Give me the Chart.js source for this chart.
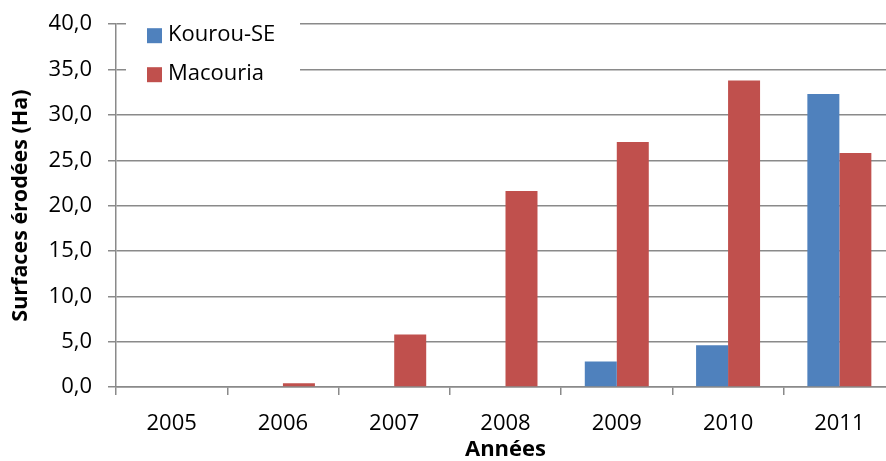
<!DOCTYPE html>
<html lang="fr">
<head>
<meta charset="utf-8">
<title>Surfaces érodées</title>
<script src="https://cdn.jsdelivr.net/npm/chart.js@4.4.0/dist/chart.umd.min.js"></script>
<style>
  html, body { margin: 0; padding: 0; background: #fff; overflow: hidden; }
  #wrap { position: relative; width: 895px; height: 466px; margin-top: -5px; }
</style>
</head>
<body>
<div id="wrap"><canvas id="chart"></canvas></div>
<script>
// Données
const annees = ['2005', '2006', '2007', '2008', '2009', '2010', '2011'];
const kourouSE = [0, 0, 0, 0, 2.8, 4.6, 32.3];
const macouria = [0, 0.4, 5.8, 21.6, 27.0, 33.8, 25.8];
const serieNoms = ['Kourou-SE', 'Macouria'];
const serieCouleurs = ['#4f81bd', '#c0504d'];

const police = "'Open Sans', 'Liberation Sans', sans-serif";
const gris = '#8a8a8a';

// Légende dessinée dans la zone du graphique (en haut à gauche)
const legendeInterne = {
  id: 'legendeInterne',
  afterDatasetsDraw(chart) {
    const ctx = chart.ctx;
    const area = chart.chartArea;
    const x0 = area.left + 10;
    const y0 = area.top - 10;
    ctx.save();
    ctx.fillStyle = '#fff';
    ctx.fillRect(x0, y0, 174, 86);
    ctx.font = '22px ' + police;
    ctx.textBaseline = 'middle';
    chart.data.datasets.forEach((ds, i) => {
      const cy = area.top + 11 + i * 39;
      ctx.fillStyle = ds.backgroundColor;
      ctx.fillRect(area.left + 31, cy - 7, 15, 15);
      ctx.fillStyle = '#000';
      ctx.fillText(ds.label, area.left + 52, cy);
    });
    ctx.restore();
  }
};

new Chart(document.getElementById('chart'), {
  type: 'bar',
  data: {
    labels: annees,
    datasets: [
      { label: serieNoms[0], data: kourouSE, backgroundColor: serieCouleurs[0] },
      { label: serieNoms[1], data: macouria, backgroundColor: serieCouleurs[1] }
    ]
  },
  options: {
    responsive: true,
    maintainAspectRatio: false,
    animation: false,
    layout: { padding: { top: 14, right: 0, left: 0, bottom: 0 } },
    datasets: {
      bar: { barPercentage: 1, categoryPercentage: 0.575 }
    },
    plugins: {
      legend: { display: false },
      tooltip: { enabled: false }
    },
    scales: {
      x: {
        offset: true,
        grid: { drawOnChartArea: false, drawTicks: true, tickLength: 8, color: gris, lineWidth: 1.5, offset: true },
        border: { color: gris, width: 1.5 },
        ticks: { color: '#000', font: { family: police, size: 22 }, padding: 16 },
        title: { display: true, text: 'Années', color: '#000', font: { family: police, size: 22, weight: 'bold', lineHeight: 1 }, padding: { top: 0, bottom: 0 } },
        afterFit(scale) { scale.height = 74; }
      },
      y: {
        min: 0,
        max: 40,
        grid: { color: gris, lineWidth: 1.5, tickLength: 8 },
        border: { color: gris, width: 1.5 },
        ticks: {
          stepSize: 5,
          color: '#000',
          padding: 16,
          font: { family: police, size: 22 },
          callback: v => v.toFixed(1).replace('.', ',')
        },
        title: { display: true, text: 'Surfaces érodées (Ha)', color: '#000', font: { family: police, size: 21.5, weight: 'bold', lineHeight: 1 }, padding: { top: 10 } },
        afterFit(scale) { scale.width = 116; }
      }
    }
  },
  plugins: [legendeInterne]
});
</script>
</body>
</html>
